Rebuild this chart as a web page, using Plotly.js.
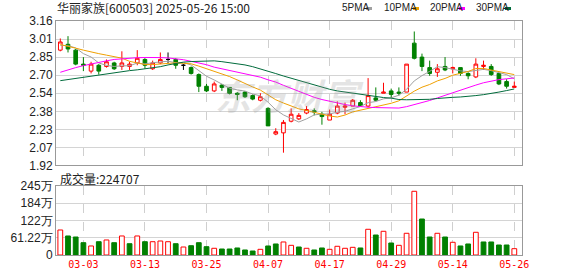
<!DOCTYPE html>
<html><head><meta charset="utf-8">
<script src="https://cdn.plot.ly/plotly-3.0.1.min.js"></script>
<style>html,body{margin:0;padding:0;background:#fff}#chart{width:578px;height:276px}</style>
</head><body><div id="chart"></div>
<script>
const dates = ['02-26','02-27','02-28','03-03','03-04','03-05','03-06','03-07','03-10','03-11',
 '03-12','03-13','03-14','03-17','03-18','03-19','03-20','03-21','03-24','03-25',
 '03-26','03-27','03-28','03-31','04-01','04-02','04-03','04-07','04-08','04-09',
 '04-10','04-11','04-14','04-15','04-16','04-17','04-18','04-21','04-22','04-23',
 '04-24','04-25','04-28','04-29','04-30','05-06','05-07','05-08','05-09','05-12',
 '05-13','05-14','05-15','05-16','05-19','05-20','05-21','05-22','05-23','05-26'];
const open  = [2.91,2.96,2.91,2.79,2.73,2.78,2.77,2.80,2.77,2.77, 2.80,2.83,2.75,2.80,2.83,2.83,2.78,2.76,2.70,2.60,
 2.56,2.61,2.59,2.54,2.55,2.52,2.48,2.41,2.19,2.20, 2.30,2.32,2.37,2.39,2.36,2.31,2.37,2.42,2.43,2.46,
 2.43,2.50,2.54,2.56,2.55,2.55,2.97,2.85,2.76,2.72, 2.77,2.75,2.76,2.71,2.68,2.77,2.77,2.71,2.64,2.59];
const high  = [3.01,3.03,2.92,2.85,2.81,2.79,2.83,2.81,2.90,2.81, 2.91,2.84,2.82,2.89,2.89,2.84,2.79,2.77,2.71,2.62,
 2.64,2.62,2.59,2.55,2.56,2.53,2.54,2.42,2.24,2.31, 2.41,2.37,2.43,2.41,2.38,2.40,2.47,2.46,2.49,2.48,
 2.67,2.59,2.63,2.58,2.59,2.79,3.07,2.88,2.82,2.79, 2.85,2.77,2.76,2.72,2.84,2.82,2.79,2.71,2.66,2.64];
const low   = [2.90,2.89,2.78,2.73,2.71,2.70,2.76,2.74,2.74,2.74, 2.78,2.75,2.74,2.79,2.80,2.75,2.74,2.70,2.55,2.55,
 2.55,2.56,2.53,2.48,2.50,2.48,2.47,2.26,2.18,2.03, 2.29,2.31,2.36,2.35,2.27,2.31,2.36,2.36,2.43,2.43,
 2.42,2.47,2.54,2.50,2.52,2.55,2.83,2.73,2.69,2.68, 2.73,2.71,2.69,2.66,2.67,2.74,2.69,2.61,2.58,2.59];
const close = [2.98,2.92,2.79,2.78,2.79,2.73,2.81,2.75,2.80,2.79, 2.84,2.78,2.80,2.83,2.83,2.78,2.78,2.71,2.60,2.56,
 2.62,2.59,2.54,2.53,2.51,2.49,2.51,2.26,2.21,2.29, 2.36,2.35,2.40,2.38,2.34,2.36,2.43,2.43,2.48,2.43,
 2.52,2.48,2.55,2.53,2.54,2.79,2.84,2.77,2.71,2.75, 2.74,2.76,2.71,2.69,2.79,2.78,2.70,2.62,2.60,2.60];
const volume = [88.8,67.5,63.9,43.7,32.0,47.2,53.3,43.7,67.5,40.1, 67.5,47.2,47.2,49.7,47.2,40.1,28.4,33.0,43.7,29.5,
 23.8,21.3,21.3,24.9,17.8,14.2,20.2,32.0,39.1,46.2, 34.4,28.4,23.8,17.8,24.9,20.2,30.9,23.8,27.3,24.9,
 91.3,71.0,84.2,42.6,34.4,77.1,226.2,127.8,63.9,77.1, 63.9,45.1,32.0,39.1,80.6,46.2,46.2,35.5,35.5,22.47];
const ma5  = [2.951,2.948,2.929,2.880,2.851,2.800,2.779,2.770,2.775,2.776, 2.799,2.792,2.802,2.808,2.815,2.802,2.802,2.783,2.738,2.686,
 2.654,2.616,2.583,2.569,2.558,2.533,2.518,2.463,2.398,2.354, 2.327,2.293,2.320,2.354,2.362,2.362,2.378,2.385,2.406,2.426,
 2.459,2.469,2.492,2.501,2.523,2.574,2.646,2.691,2.728,2.768, 2.760,2.744,2.732,2.726,2.736,2.745,2.734,2.716,2.700,2.664];
const ma10 = [2.958,2.945,2.927,2.910,2.893,2.880,2.867,2.854,2.841,2.814, 2.800,2.786,2.786,2.792,2.796,2.801,2.797,2.793,2.773,2.751,
 2.728,2.709,2.683,2.654,2.622,2.594,2.567,2.523,2.484,2.456, 2.430,2.406,2.392,2.376,2.358,2.345,2.336,2.353,2.380,2.394,
 2.411,2.424,2.439,2.454,2.475,2.517,2.558,2.592,2.615,2.646, 2.667,2.695,2.712,2.727,2.752,2.753,2.739,2.724,2.713,2.700];
const ma20 = [2.720,2.742,2.760,2.777,2.792,2.806,2.818,2.830,2.836,2.841, 2.845,2.847,2.848,2.846,2.843,2.838,2.828,2.814,2.800,2.785,
 2.764,2.750,2.734,2.718,2.705,2.692,2.678,2.655,2.636,2.608, 2.582,2.555,2.528,2.505,2.486,2.470,2.455,2.443,2.432,2.424,
 2.420,2.417,2.414,2.413,2.413,2.425,2.442,2.460,2.478,2.500, 2.523,2.545,2.565,2.590,2.610,2.630,2.645,2.657,2.664,2.671];
const ma30 = [2.648,2.658,2.668,2.679,2.688,2.697,2.708,2.716,2.725,2.734, 2.741,2.748,2.758,2.768,2.783,2.795,2.807,2.812,2.815,2.820,
 2.818,2.811,2.803,2.795,2.783,2.768,2.750,2.730,2.709,2.688, 2.668,2.648,2.628,2.608,2.588,2.574,2.560,2.550,2.540,2.530,
 2.520,2.510,2.503,2.498,2.486,2.484,2.484,2.484,2.488,2.495, 2.502,2.505,2.508,2.512,2.520,2.528,2.536,2.550,2.563,2.577];
const tickDates = ['03-03','03-13','03-25','04-07','04-17','04-29','05-14','05-26'];
const priceTicks = [1.92,2.075,2.23,2.385,2.54,2.695,2.85,3.005,3.16];
const priceTickText = ['1.92','2.07','2.23','2.38','2.54','2.70','2.85','3.01','3.16'];
const volTicks = [0,61.25,122.5,183.75,245];
const volTickText = ['0','61.22万','122万','184万','245万'];
const maNames = ['5PMA','10PMA','20PMA','30PMA'];
const maColors = ['#a0a0a0','#f0a000','#ff00ff','#006b3c'];

const UP='#ff0000', DN='#008000';
function pick(cond){
  const idx = dates.map((d,i)=>i).filter(cond);
  return {x:idx.map(i=>dates[i]),open:idx.map(i=>open[i]),high:idx.map(i=>high[i]),low:idx.map(i=>low[i]),close:idx.map(i=>close[i])};
}
function candle(sel, lineC, fillC){
  return Object.assign({type:'candlestick',xaxis:'x',yaxis:'y',hoverinfo:'skip',whiskerwidth:0,
    increasing:{line:{color:lineC,width:1},fillcolor:fillC},
    decreasing:{line:{color:lineC,width:1},fillcolor:fillC}}, sel);
}
const traces = [];
[ma5,ma10,ma20,ma30].forEach((m,k)=>traces.push({type:'scatter',mode:'lines',x:dates,y:m,xaxis:'x',yaxis:'y',
  line:{color:maColors[k],width:1,shape:'linear'},hoverinfo:'skip'}));
traces.push(candle(pick(i=>close[i]>open[i]),UP,'#ffffff'));
traces.push(candle(pick(i=>close[i]<open[i]),DN,DN));
traces.push(candle(pick(i=>close[i]===open[i]),'#000000','#000000'));
const volUp = close.map((c,i)=> i===0 ? true : c>=close[i-1]);
traces.push({type:'bar',x:dates,y:volume,xaxis:'x2',yaxis:'y2',width:0.62,hoverinfo:'skip',
  marker:{color:volUp.map(u=>u?'#ffffff':DN),line:{color:volUp.map(u=>u?UP:DN),width:1}}});

const xr=[-0.56,60.0];
const grid='#d4d4d4', frame='#999999';
const axX = {type:'category',range:xr,showgrid:true,gridcolor:'#cfcfcf',griddash:'dash',gridwidth:1,
  tickmode:'array',tickvals:tickDates,ticks:'',showline:true,mirror:true,linecolor:frame,linewidth:1,
  zeroline:false,fixedrange:true};
const layout = {
  width:578,height:276,margin:{l:56,r:56,t:21,b:21},paper_bgcolor:'#fff',plot_bgcolor:'#fff',
  showlegend:false,dragmode:false,boxgap:0.32,
  xaxis:Object.assign({},axX,{domain:[0,1],anchor:'y',showticklabels:false,rangeslider:{visible:false}}),
  xaxis2:Object.assign({},axX,{domain:[0,1],anchor:'y2',showticklabels:true,ticktext:tickDates,
    tickfont:{family:'DejaVu Sans Mono',size:10,color:'#ff0000'}}),
  yaxis:{domain:[0.3825,1],range:[1.92,3.16],tickmode:'array',tickvals:priceTicks,ticktext:priceTickText,
    showgrid:true,gridcolor:grid,gridwidth:1,showline:true,mirror:true,linecolor:frame,zeroline:false,ticks:'',
    tickfont:{family:'Liberation Sans',size:12,color:'#222'},fixedrange:true},
  yaxis2:{domain:[0,0.2949],range:[0,245],tickmode:'array',tickvals:volTicks,ticktext:volTickText,
    showgrid:true,gridcolor:grid,gridwidth:1,showline:true,mirror:true,linecolor:frame,zeroline:false,ticks:'',
    tickfont:{family:'Liberation Sans',size:12,color:'#222'},fixedrange:true},
  annotations:[
    {xref:'paper',yref:'paper',x:-0.003,y:1.0556,xanchor:'left',yanchor:'middle',showarrow:false,
     text:'华丽家族[600503] 2025-05-26 15:00',font:{family:'Noto Sans CJK SC',size:12,color:'#222'}},
    {xref:'paper',yref:'paper',x:0.004,y:0.329,xanchor:'left',yanchor:'middle',showarrow:false,
     text:'成交量:224707',font:{family:'Noto Sans CJK SC',size:12,color:'#222'}},
    {xref:'paper',yref:'paper',x:0.5,y:0.69,xanchor:'center',yanchor:'middle',showarrow:false,
     text:'<b><i>东方财富</i></b>',font:{family:'Noto Sans CJK SC',size:36,color:'rgba(150,150,150,0.25)'}}
  ],
  shapes:[]
};
const legX=[340,382,428,474], sqX=[366,413,459,505];
maNames.forEach((n,k)=>{
  layout.annotations.push({xref:'paper',yref:'paper',x:(legX[k]-56)/466,y:1.0556,xanchor:'left',yanchor:'middle',
    showarrow:false,text:n,font:{family:'Liberation Sans',size:10,color:'#222'}});
  layout.shapes.push({type:'rect',xref:'paper',yref:'paper',x0:(sqX[k]-56)/466,x1:(sqX[k]+6-56)/466,
    y0:(255-10)/234,y1:(255-7)/234,fillcolor:maColors[k],line:{width:0}});
});
Plotly.newPlot('chart',traces,layout,{displayModeBar:false,staticPlot:true});
</script></body></html>
